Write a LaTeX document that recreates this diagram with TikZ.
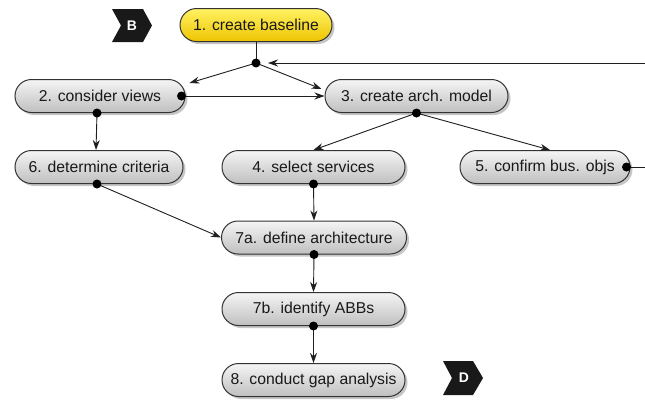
\documentclass[tikz,border=0pt]{standalone}
\usepackage{fontspec}
\setmainfont{Liberation Sans}
\usetikzlibrary{arrows.meta,shadows}
\definecolor{ylwtop}{RGB}{255,242,100}
\definecolor{ylwbot}{RGB}{238,196,0}
\definecolor{linecol}{RGB}{30,30,30}
\begin{document}
\begin{tikzpicture}[x=1bp,y=-1bp,
  stepbox/.style={draw=black!80, line width=1bp, rounded corners=16.5bp,
    minimum height=33bp, inner sep=0pt, top color=gray!8, bottom color=gray!50,
    font=\fontsize{15.8}{18}\selectfont, text=black!90,
    drop shadow={opacity=0.45, shadow xshift=2.5bp, shadow yshift=-2.5bp}},
  startbox/.style={stepbox, top color=ylwtop, bottom color=ylwbot},
  conn/.style={draw=linecol, line width=0.9bp},
  arr/.style={conn, -{Stealth[length=10bp,width=7bp]}},
  dot/.style={circle, fill=black, inner sep=0pt, minimum size=9bp},
  chev/.style={fill=black!90, draw=none},
  chevtext/.style={text=white, font=\fontsize{14}{16}\selectfont\bfseries}
]
\useasboundingbox (0,0) rectangle (645,400);

% chevrons
\fill[chev] (112,9) -- (143,9) -- (152,25.5) -- (143,42) -- (112,42) -- (121,25.5) -- cycle;
\node[chevtext] (mB) at (132,25.5) {B};
\fill[chev] (443,361) -- (473,361) -- (483,378) -- (473,395) -- (443,395) -- (452,378) -- cycle;
\node[chevtext] (mD) at (464,378) {D};

% nodes
\node[startbox, minimum width=152bp] (n1) at (256,25) {1. create baseline};
\node[stepbox, minimum width=170bp] (n2) at (100,96) {2. consider views};
\node[stepbox, minimum width=183bp] (n3) at (416.5,96) {3. create arch. model};
\node[stepbox, minimum width=168bp] (n6) at (99,167) {6. determine criteria};
\node[stepbox, minimum width=183bp] (n4) at (313.5,167) {4. select services};
\node[stepbox, minimum width=170bp] (n5) at (545,167) {5. confirm bus. objs};
\node[stepbox, minimum width=185bp] (n7a) at (314,237.5) {7a. define architecture};
\node[stepbox, minimum width=183bp] (n7b) at (313.5,309) {7b. identify ABBs};
\node[stepbox, minimum width=183bp] (n8) at (313.5,380) {8. conduct gap analysis};

\coordinate (j) at (256,63);
\coordinate (rin) at (646,63);
\coordinate (rout) at (646,167);

% connectors
\draw[conn] (n1.south) -- (j);
\draw[arr] (rin) -- ([xshift=12bp]j);
\draw[arr] (j) -- ([xshift=4bp,yshift=-4bp]n2.north east);
\draw[arr] (j) -- ([xshift=-3bp,yshift=-10bp]n3.north west);
\draw[arr] ([xshift=-4bp]n2.east) -- (n3.west);
\draw[arr] ([xshift=-3bp]n2.south) -- ([xshift=-3bp]n6.north);
\draw[arr] (n3.south) -- (n4.north);
\draw[arr] (n3.south) -- ([xshift=5bp]n5.north);
\draw[arr] ([xshift=-2bp]n6.south) -- (n7a.west);
\draw[arr] (n4.south) -- (n7a.north);
\draw[arr] (n7a.south) -- (n7b.north);
\draw[arr] (n7b.south) -- (n8.north);
\draw[conn] ([xshift=-4bp]n5.east) -- (rout);

% dots
\node[dot] (dj) at (j) {};
\node[dot] (d2e) at ([xshift=-4bp]n2.east) {};
\node[dot] (d2s) at ([xshift=-3bp]n2.south) {};
\node[dot] (d3s) at (n3.south) {};
\node[dot] (d6s) at ([xshift=-2bp]n6.south) {};
\node[dot] (d4s) at (n4.south) {};
\node[dot] (d5e) at ([xshift=-4bp]n5.east) {};
\node[dot] (d7as) at (n7a.south) {};
\node[dot] (d7bs) at (n7b.south) {};
\end{tikzpicture}
\end{document}
